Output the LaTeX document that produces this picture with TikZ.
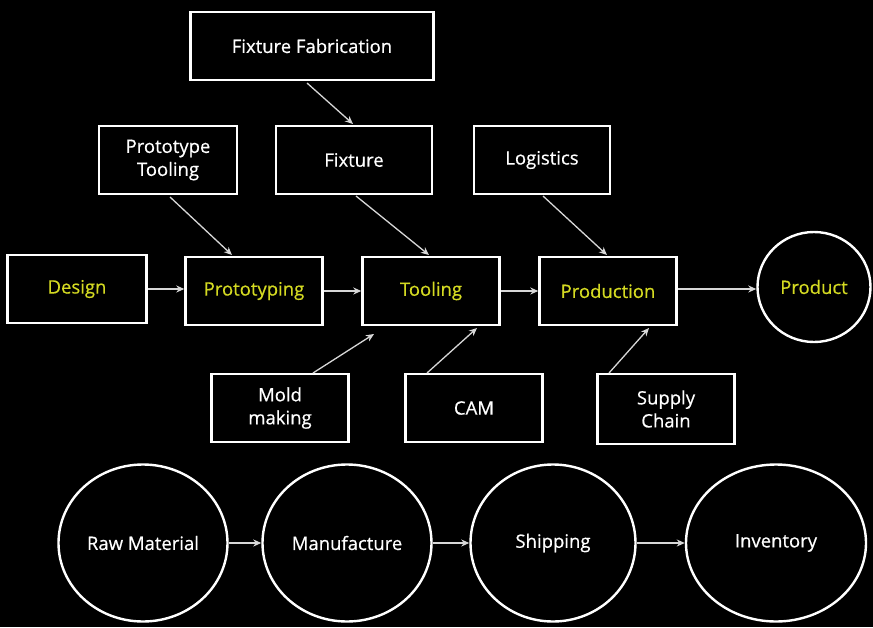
\documentclass[tikz,border=0pt]{standalone}
\usepackage{fontspec}
\setmainfont{Open Sans}[UprightFeatures={FakeBold=0.5}]
\usetikzlibrary{arrows.meta,shapes.geometric}
\definecolor{ylw}{RGB}{212,218,34}
\definecolor{lnc}{RGB}{215,215,215}
\tikzset{
  lbl/.style={font=\fontsize{18.5}{23}\selectfont},
  box/.style={lbl,draw=white,line width=2.4pt,fill=black,minimum width=137pt,minimum height=68pt,inner sep=0pt,text=white,align=center},
  keybox/.style={box,text=ylw},
  ring/.style={lbl,draw=white,line width=2.4pt,fill=black,ellipse,inner sep=0pt,text=white},
  conn/.style={draw=lnc,line width=1.3pt,-{Stealth[length=8pt,width=7pt,inset=2.5pt]}}
}
\begin{document}
\begin{tikzpicture}[x=1pt,y=-1pt]
\fill[black] (0,0) rectangle (873,627);
\useasboundingbox (0,0) rectangle (873,627);
% top boxes
\node[box,minimum width=243pt] (ff) at (312,46) {Fixture Fabrication};
\node[box,minimum width=138pt] (pt) at (168,160) {Prototype\\Tooling};
\node[box,minimum width=156pt] (fx) at (354,160) {Fixture};
\node[box,minimum width=136pt] (lg) at (542,160) {Logistics};
% main row
\node[keybox,minimum width=139pt] (de) at (77,289) {Design};
\node[keybox] (pr) at (254,291) {Prototyping};
\node[keybox] (to) at (431,291) {Tooling};
\node[keybox] (pd) at (608,291) {Production};
\node[ring,minimum width=113pt,minimum height=110pt,text=ylw] (pu) at (814,287) {Product};
% lower boxes
\node[box] (mm) at (280,408) {Mold\\making};
\node[box] (ca) at (474,408) {CAM};
\node[box,minimum height=70pt] (sc) at (666,409) {Supply\\Chain};
% bottom circles
\node[ring,minimum width=169pt,minimum height=157pt] (rm) at (143,543) {Raw Material};
\node[ring,minimum width=169pt,minimum height=157pt] (mf) at (347,543) {Manufacture};
\node[ring,minimum width=165pt,minimum height=157pt] (sh) at (553,543) {Shipping};
\node[ring,minimum width=180pt,minimum height=157pt] (iv) at (776,543) {Inventory};
% connectors
\coordinate (ffa) at (307,83);
\coordinate (ffb) at (353,124);
\draw[conn] (ffa) -- (ffb);
\coordinate (pta) at (170,197);
\coordinate (ptb) at (232,255);
\draw[conn] (pta) -- (ptb);
\coordinate (fxa) at (356,196);
\coordinate (fxb) at (429,255);
\draw[conn] (fxa) -- (fxb);
\coordinate (lga) at (543,196);
\coordinate (lgb) at (607,255);
\draw[conn] (lga) -- (lgb);
\coordinate (mma) at (313,373);
\coordinate (mmb) at (374,334);
\draw[conn] (mma) -- (mmb);
\coordinate (caa) at (427,373);
\coordinate (cab) at (477,328);
\draw[conn] (caa) -- (cab);
\coordinate (sca) at (609,373);
\coordinate (scb) at (649,328);
\draw[conn] (sca) -- (scb);
\draw[conn] (de.east |- 0,289) -- (pr.west |- 0,289);
\draw[conn] (pr.east) -- (to.west);
\draw[conn] (to.east) -- (pd.west);
\draw[conn] (pd.east |- 0,289) -- (pu.west |- 0,289);
\draw[conn] (rm) -- (mf);
\draw[conn] (mf) -- (sh);
\draw[conn] (sh) -- (iv);
\end{tikzpicture}
\end{document}
